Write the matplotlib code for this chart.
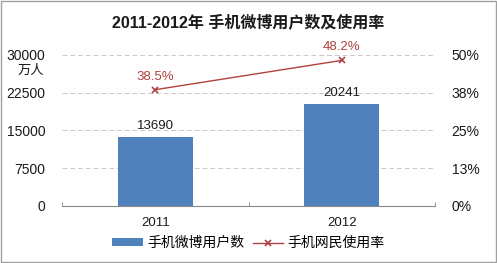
import matplotlib
matplotlib.use("Agg")
import matplotlib.pyplot as plt
import numpy as np

plt.rcParams["font.family"] = ["Liberation Sans", "Noto Sans CJK SC", "DejaVu Sans"]

YEARS = ["2011", "2012"]
USERS = [13690, 20241]          # 万人
RATE = [38.5, 48.2]             # %
LEFT_TICKS = [0, 7500, 15000, 22500, 30000]
RIGHT_TICKS = [0, 12.5, 25, 37.5, 50]
RIGHT_LABELS = ["0%", "13%", "25%", "38%", "50%"]

BAR_COLOR = "#4F81BD"
LINE_COLOR = "#B0413E"
TEXT_COLOR = "#1A1A1A"
GRID_COLOR = "#C8C8C8"

fig = plt.figure(figsize=(4.97, 2.63), dpi=100)
fig.patch.set_facecolor("white")
ax = fig.add_axes([0.125, 0.217, 0.75, 0.574])
ax2 = ax.twinx()

x = np.arange(len(YEARS))
bars = ax.bar(x, USERS, width=0.4, color=BAR_COLOR, zorder=2, label="手机微博用户数")
for xi, v in zip(x, USERS):
    ax.text(xi, v + 1100, str(v), ha="center", va="bottom", fontsize=9.5, color=TEXT_COLOR)

ax.set_xlim(-0.5, len(YEARS) - 0.5)
ax.set_ylim(0, 30000)
ax.set_yticks(LEFT_TICKS)
ax.set_yticklabels([str(t) for t in LEFT_TICKS], fontsize=10, color=TEXT_COLOR)
ax.set_xticks(x)
ax.set_xticklabels(YEARS, fontsize=9.5, color=TEXT_COLOR)
ax.tick_params(axis="y", length=0, pad=12)
ax.tick_params(axis="x", length=0, pad=8)
ax.set_xticks([-0.5, 0.5, 1.5], minor=True)
ax.tick_params(axis="x", which="minor", length=3, direction="in", color="#888888")
ax.grid(axis="y", color=GRID_COLOR, linestyle=(0, (5, 3)), linewidth=0.7, zorder=0)
ax.set_axisbelow(True)
for s in ["top", "left", "right"]:
    ax.spines[s].set_visible(False)
ax.spines["bottom"].set_color("#888888")
ax.text(-0.085, 0.935, "万人", transform=ax.transAxes, ha="center", va="top", fontsize=9.5, color=TEXT_COLOR)

line, = ax2.plot(x, RATE, color=LINE_COLOR, linewidth=1.0, marker="x", markersize=5,
                 markeredgewidth=1.2, label="手机网民使用率", zorder=3)
for xi, v in zip(x, RATE):
    ax2.text(xi, v + 2.3, f"{v}%", ha="center", va="bottom", fontsize=9.5, color=LINE_COLOR)
ax2.set_ylim(0, 50)
ax2.set_yticks(RIGHT_TICKS)
ax2.set_yticklabels(RIGHT_LABELS, fontsize=10, color=TEXT_COLOR)
ax2.tick_params(axis="y", length=0, pad=12)
for s in ["top", "left", "right", "bottom"]:
    ax2.spines[s].set_visible(False)

fig.text(0.5, 0.915, "2011-2012年 手机微博用户数及使用率", ha="center", va="center",
         fontsize=11.5, fontweight="bold", color=TEXT_COLOR)

fig.legend(handles=[bars, line], loc="center", bbox_to_anchor=(0.5, 0.075), ncol=2,
           frameon=False, fontsize=10, handlelength=2.2, handleheight=0.5,
           columnspacing=0.6, handletextpad=0.3)

border = plt.Rectangle((0.002, 0.004), 0.996, 0.992, transform=fig.transFigure,
                       fill=False, edgecolor="#A0A0A0", linewidth=1.0)
fig.patches.append(border)

fig.savefig("out.png", dpi=100, facecolor="white")
